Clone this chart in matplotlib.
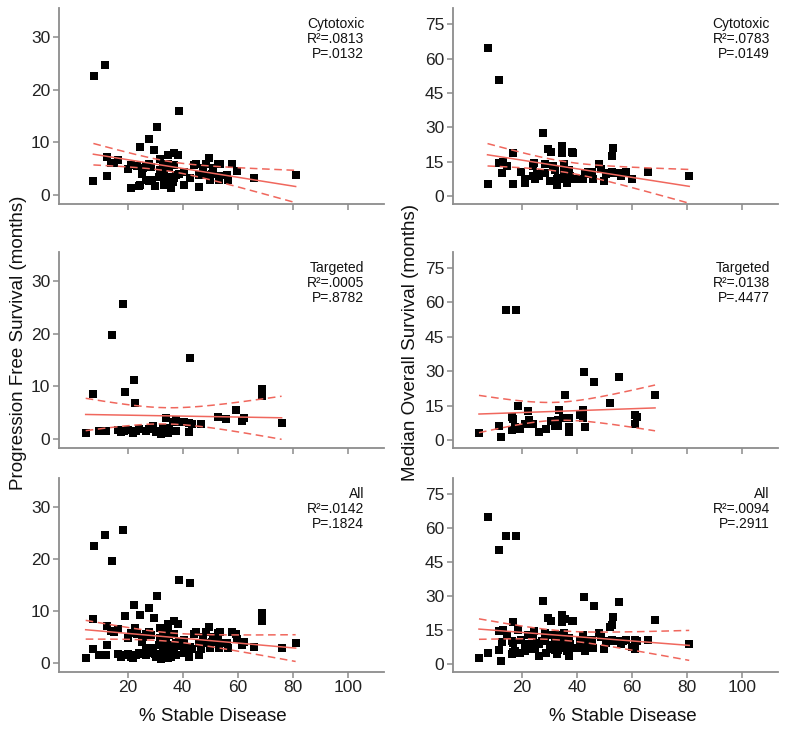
import numpy as np
import matplotlib
matplotlib.use("Agg")
import matplotlib.pyplot as plt

plt.rcParams['font.family'] = ['Liberation Sans', 'DejaVu Sans']

# ---------------- data ----------------
cyto_pfs_x = [7.9, 11.9, 38.5, 30.8, 27.6, 24.6, 29.5, 34.5, 36.7, 38.2, 31.8, 7.6, 12.7, 12.7,
              13.9, 15.2, 16.7, 20.0, 21.2, 21.2, 24.0, 24.6, 23.6, 25.2, 25.5, 26.7, 27.6, 28.5,
              26.7, 27.9, 28.8, 29.8, 31.3, 31.8, 32.7, 33.3, 33.1, 33.9, 34.5, 35.2, 35.5, 35.8,
              36.4, 37.0, 37.6, 36.7, 38.8, 40.6, 40.6, 42.7, 44.2, 44.8, 45.8, 46.0, 47.3, 48.5,
              48.5, 49.7, 50.0, 50.7, 50.9, 52.7, 53.6, 53.3, 53.1, 56.0, 56.4, 58.0, 59.8, 65.8, 81.0]
cyto_pfs_y = [22.6, 24.7, 15.9, 12.9, 10.7, 9.2, 8.6, 7.6, 8.1, 7.6, 6.8, 2.7, 3.6, 7.2,
              6.2, 6.1, 6.6, 4.9, 5.8, 1.3, 1.8, 2.0, 5.6, 4.0, 5.1, 5.6, 6.0, 5.4,
              2.9, 2.7, 2.9, 1.7, 3.5, 4.8, 5.4, 3.8, 1.9, 2.5, 6.0, 5.4, 3.5, 1.3,
              2.5, 3.2, 3.8, 5.7, 4.1, 1.9, 4.4, 3.2, 5.7, 6.0, 1.6, 3.8, 5.1, 6.0,
              3.8, 7.0, 2.9, 4.1, 5.1, 5.9, 6.0, 3.6, 2.9, 3.8, 2.9, 6.0, 4.6, 3.2, 3.8]

cyto_os_x = [7.9, 11.8, 7.6, 11.8, 13.3, 12.7, 14.5, 17.0, 17.0, 19.8, 21.2, 21.2, 24.0, 24.6,
             24.2, 24.8, 25.5, 26.3, 27.3, 27.9, 28.5, 28.5, 29.5, 30.7, 30.1, 31.5, 32.1, 32.7,
             32.7, 33.3, 34.5, 34.8, 35.2, 35.5, 35.8, 36.4, 37.0, 37.6, 38.2, 38.8, 38.8, 40.0,
             41.2, 42.4, 43.0, 44.2, 45.5, 46.0, 47.9, 48.8, 49.7, 50.5, 51.5, 52.7, 53.3, 52.7,
             53.9, 56.1, 56.6, 57.8, 60.0, 65.8, 80.8]
cyto_os_y = [64.8, 50.5, 5.1, 14.6, 15.0, 9.9, 13.1, 18.6, 5.4, 10.5, 7.3, 5.8, 13.1, 14.6,
             8.7, 7.3, 9.5, 8.7, 10.2, 27.7, 13.8, 10.2, 20.4, 19.2, 6.6, 13.1, 11.6, 7.3,
             4.7, 7.7, 21.8, 18.6, 13.8, 10.9, 7.3, 5.8, 11.6, 8.7, 19.2, 18.9, 7.3, 7.3,
             7.6, 7.3, 9.5, 10.5, 10.5, 7.3, 13.8, 11.9, 6.6, 9.5, 10.2, 17.5, 20.8, 10.5,
             10.2, 8.7, 10.2, 10.5, 7.6, 10.5, 8.7]

targ_pfs_x = [4.8, 7.3, 9.5, 12.1, 14.5, 18.4, 19.2, 22.2, 22.8, 16.7, 17.6, 18.8, 20.0, 21.8,
              23.0, 24.2, 26.7, 27.9, 29.1, 30.3, 31.3, 32.1, 32.7, 33.3, 33.9, 34.5, 35.2, 36.4,
              37.6, 37.6, 39.4, 40.6, 42.2, 42.4, 42.8, 43.4, 46.7, 52.7, 55.8, 59.2, 61.6, 62.2,
              68.8, 68.8, 75.9]
targ_pfs_y = [1.1, 8.5, 1.6, 1.6, 19.7, 25.6, 9.0, 11.2, 6.8, 1.7, 1.3, 1.6, 1.7, 1.1,
              1.6, 1.9, 1.6, 1.9, 2.5, 1.3, 1.6, 0.9, 2.2, 1.6, 4.0, 1.1, 2.2, 3.2,
              3.6, 1.5, 3.3, 3.2, 3.0, 1.3, 15.4, 2.8, 2.8, 4.2, 3.9, 5.6, 3.5, 4.0,
              9.6, 8.2, 3.0]

targ_os_x = [4.5, 11.8, 12.4, 14.2, 17.9, 18.5, 16.4, 17.0, 16.4, 17.6, 19.4, 21.2, 22.4, 22.8,
             23.3, 24.2, 26.3, 28.7, 30.5, 32.1, 33.3, 33.6, 33.1, 34.9, 35.8, 37.0, 37.2, 37.2,
             41.2, 42.2, 42.2, 42.5, 42.8, 46.4, 51.9, 55.3, 61.2, 61.8, 61.2, 68.4]
targ_os_y = [2.9, 6.2, 1.2, 56.7, 56.7, 14.9, 10.1, 9.4, 4.6, 5.8, 5.0, 6.9, 12.7, 8.7,
             6.9, 6.9, 3.6, 5.0, 8.4, 6.1, 6.1, 13.0, 8.9, 9.8, 19.8, 9.8, 5.8, 3.6,
             10.8, 13.0, 9.8, 29.6, 5.8, 25.5, 16.3, 27.4, 10.8, 10.1, 6.8, 19.5]

group_labels = ["Cytotoxic", "Targeted", "All"]
pfs_stats = [("R\u00b2=.0813", "P=.0132"), ("R\u00b2=.0005", "P=.8782"), ("R\u00b2=.0142", "P=.1824")]
os_stats = [("R\u00b2=.0783", "P=.0149"), ("R\u00b2=.0138", "P=.4477"), ("R\u00b2=.0094", "P=.2911")]

x_ticks = [20, 40, 60, 80, 100]
pfs_ticks = [0, 10, 20, 30]
os_ticks = [0, 15, 30, 45, 60, 75]

# ---------------- helpers ----------------
RED = "#f0675d"
GREY = "#8c8c8c"


def fit_band(ax, x, y):
    x = np.asarray(x, float)
    y = np.asarray(y, float)
    n = len(x)
    b, a = np.polyfit(x, y, 1)
    xs = np.linspace(x.min(), x.max(), 200)
    yh = a + b * xs
    resid = y - (a + b * x)
    s = np.sqrt(np.sum(resid ** 2) / (n - 2))
    sxx = np.sum((x - x.mean()) ** 2)
    df = n - 2
    z = 1.959964
    t = z + (z ** 3 + z) / (4 * df) + (5 * z ** 5 + 16 * z ** 3 + 3 * z) / (96 * df ** 2)
    se = s * np.sqrt(1.0 / n + (xs - x.mean()) ** 2 / sxx)
    ax.plot(xs, yh, color=RED, lw=1.1, zorder=3)
    ax.plot(xs, yh + t * se, color=RED, lw=1.1, ls=(0, (5, 3)), zorder=3)
    ax.plot(xs, yh - t * se, color=RED, lw=1.1, ls=(0, (5, 3)), zorder=3)


def style(ax, yticks, ylim, show_xlabels):
    for sp in ["top", "right"]:
        ax.spines[sp].set_visible(False)
    for sp in ["left", "bottom"]:
        ax.spines[sp].set_color(GREY)
        ax.spines[sp].set_linewidth(1.3)
    ax.set_xlim(-5, 113)
    ax.set_ylim(*ylim)
    ax.set_xticks(x_ticks)
    ax.set_yticks(yticks)
    ax.tick_params(axis="both", colors=GREY, length=4, width=1.1, labelsize=12.5,
                   labelcolor="#222222", pad=2)
    if not show_xlabels:
        ax.set_xticklabels([])


fig = plt.figure(figsize=(7.93, 7.37), dpi=100)

rows = [(0.723, 0.266), (0.392, 0.266), (0.088, 0.263)]
left_x, right_x, w = 0.074, 0.571, 0.41

pfs_x = [cyto_pfs_x, targ_pfs_x, cyto_pfs_x + targ_pfs_x]
pfs_y = [cyto_pfs_y, targ_pfs_y, cyto_pfs_y + targ_pfs_y]
os_x = [cyto_os_x, targ_os_x, cyto_os_x + targ_os_x]
os_y = [cyto_os_y, targ_os_y, cyto_os_y + targ_os_y]

for i, (b, h) in enumerate(rows):
    # PFS
    ax = fig.add_axes([left_x, b, w, h])
    ax.scatter(pfs_x[i], pfs_y[i], marker="s", s=30, color="black", linewidths=0, zorder=2)
    fit_band(ax, pfs_x[i], pfs_y[i])
    style(ax, pfs_ticks, (-1.7, 35.5), i == 2)
    ax.text(0.94, 0.955, "\n".join([group_labels[i], *pfs_stats[i]]), transform=ax.transAxes,
            ha="right", va="top", fontsize=10, linespacing=1.1, color="#111111")
    # OS
    ax = fig.add_axes([right_x, b, w, h])
    ax.scatter(os_x[i], os_y[i], marker="s", s=30, color="black", linewidths=0, zorder=2)
    fit_band(ax, os_x[i], os_y[i])
    style(ax, os_ticks, (-3.5, 82), i == 2)
    ax.text(0.975, 0.955, "\n".join([group_labels[i], *os_stats[i]]), transform=ax.transAxes,
            ha="right", va="top", fontsize=10, linespacing=1.1, color="#111111")

fig.text(0.023, 0.535, "Progression Free Survival (months)", rotation=90, ha="center",
         va="center", fontsize=13.5, color="#111111")
fig.text(0.518, 0.535, "Median Overall Survival (months)", rotation=90, ha="center",
         va="center", fontsize=13.5, color="#111111")
fig.text(0.268, 0.028, "% Stable Disease", ha="center", va="center", fontsize=13.5, color="#111111")
fig.text(0.785, 0.028, "% Stable Disease", ha="center", va="center", fontsize=13.5, color="#111111")

fig.savefig("out.png", dpi=100)
